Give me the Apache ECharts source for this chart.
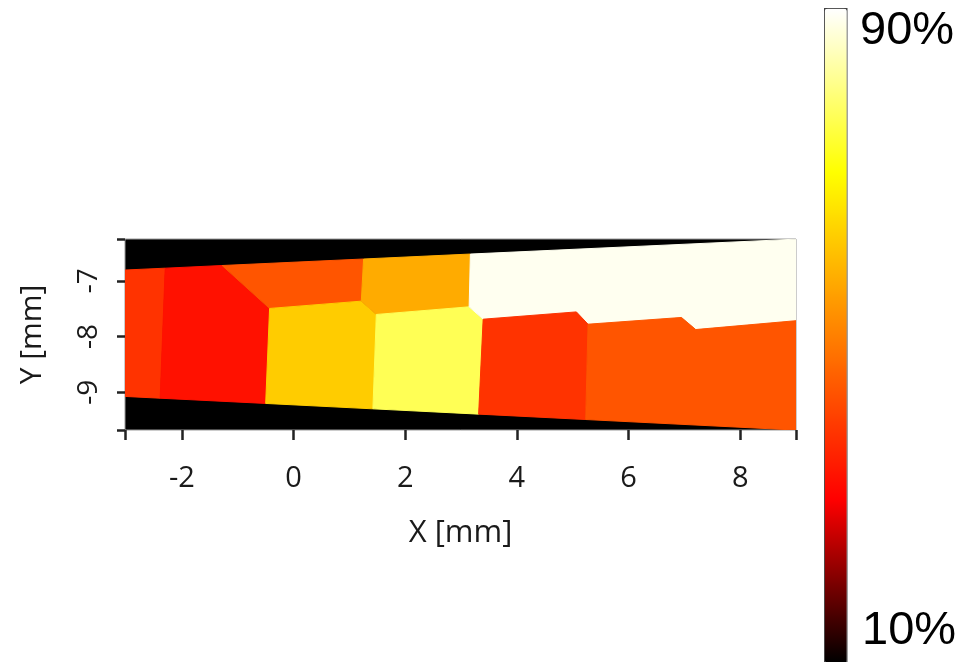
<!DOCTYPE html>
<html><head><meta charset="utf-8">
<script src="https://cdn.jsdelivr.net/npm/echarts@6/dist/echarts.min.js"></script>
<style>html,body{margin:0;padding:0;background:#fff}#c{width:966px;height:662px}</style>
</head><body><div id="c"></div>
<script>
// Cell values (percent)
const cellValues = [38, 32.7, 43.3, 62, 56.7, 76.7, 88.8, 38, 43.3];
// Cell outlines in data coordinates [X mm, Y mm]
const cell0 = [[-3.02,-6.807],[-2.30,-6.774],[-2.39,-9.109],[-3.02,-9.077]];
const cell1 = [[-2.30,-6.774],[-1.28,-6.726],[-0.43,-7.497],[-0.50,-9.203],[-2.39,-9.109]];
const cell2 = [[-1.28,-6.726],[1.254,-6.609],[1.213,-7.366],[-0.43,-7.497]];
const cell3 = [[-0.43,-7.497],[1.213,-7.366],[1.482,-7.605],[1.421,-9.300],[-0.50,-9.203]];
const cell4 = [[1.254,-6.609],[3.167,-6.520],[3.145,-7.468],[1.482,-7.605],[1.213,-7.366]];
const cell5 = [[1.482,-7.605],[3.145,-7.468],[3.396,-7.690],[3.315,-9.395],[1.421,-9.300]];
const cell6 = [[3.167,-6.520],[9.1,-6.248],[9.1,-7.708],[7.204,-7.876],[6.948,-7.659],[5.274,-7.780],[5.066,-7.559],[3.396,-7.690],[3.145,-7.468]];
const cell7 = [[3.396,-7.690],[5.066,-7.559],[5.274,-7.780],[5.233,-9.492],[3.315,-9.395]];
const cell8 = [[5.274,-7.780],[6.948,-7.659],[7.204,-7.876],[9.1,-7.708],[9.1,-9.686],[5.233,-9.492]];
const cellPolygons = [cell0, cell1, cell2, cell3, cell4, cell5, cell6, cell7, cell8];

const xTickLabels = [-2, 0, 2, 4, 6, 8];
const yTickLabels = [-9, -8, -7];
const xRange = [-3.02, 9.0];
const yRange = [-9.68, -6.25];
const colorRange = [10, 90];
const colorLabels = ['90%', '10%'];

const seriesData = cellPolygons.map((poly, i) => {
  let sx = 0, sy = 0;
  poly.forEach(p => { sx += p[0]; sy += p[1]; });
  return [sx / poly.length, sy / poly.length, cellValues[i]];
});

const chart = echarts.init(document.getElementById('c'), null, {renderer: 'canvas'});
const fontAxis = 'Open Sans';
chart.setOption({
  animation: false,
  backgroundColor: '#ffffff',
  grid: {
    left: 125, right: 170, top: 239, bottom: 232,
    show: true, backgroundColor: '#000000', borderColor: '#999999', borderWidth: 1
  },
  xAxis: {
    type: 'value', min: xRange[0], max: xRange[1],
    name: 'X [mm]', nameLocation: 'middle', nameGap: 88,
    nameTextStyle: {fontFamily: fontAxis, fontSize: 31, color: '#1a1a1a'},
    axisLine: {show: false, onZero: false},
    splitLine: {show: false},
    axisTick: {show: true, length: 10, lineStyle: {color: '#222', width: 2.5},
      customValues: [xRange[0]].concat(xTickLabels, [xRange[1]])},
    axisLabel: {customValues: xTickLabels, margin: 34, fontFamily: fontAxis, fontSize: 29, color: '#1a1a1a'}
  },
  yAxis: {
    type: 'value', min: yRange[0], max: yRange[1],
    name: 'Y [mm]', nameLocation: 'middle', nameGap: 78,
    nameTextStyle: {fontFamily: fontAxis, fontSize: 30, color: '#1a1a1a'},
    axisLine: {show: false, onZero: false},
    splitLine: {show: false},
    axisTick: {show: true, length: 8, lineStyle: {color: '#222', width: 2.5},
      customValues: [yRange[0]].concat(yTickLabels, [yRange[1]])},
    axisLabel: {customValues: yTickLabels, rotate: 90, margin: 22, fontFamily: fontAxis, fontSize: 28, color: '#1a1a1a'}
  },
  visualMap: {
    type: 'continuous', min: colorRange[0], max: colorRange[1], dimension: 2,
    orient: 'vertical', left: 824, top: 8, itemWidth: 22, itemHeight: 654,
    padding: 0, calculable: false, hoverLink: false, text: null,
    borderColor: '#444', borderWidth: 1.5,
    inRange: {color: ['#000000', '#ff0000', '#ff8000', '#ffff00', '#ffffff']},
    textStyle: {color: 'transparent'}
  },
  graphic: [
    {type: 'text', left: 860, top: 8, style: {text: colorLabels[0], fontFamily: 'Liberation Sans', fontSize: 47, fill: '#000'}},
    {type: 'text', left: 862, top: 608, style: {text: colorLabels[1], fontFamily: 'Liberation Sans', fontSize: 47, fill: '#000'}}
  ],
  series: [{
    type: 'custom', coordinateSystem: 'cartesian2d', clip: true,
    data: seriesData,
    encode: {x: 0, y: 1},
    renderItem: function (params, api) {
      const pts = cellPolygons[params.dataIndex].map(p => api.coord(p));
      const c = api.visual('color');
      return {type: 'polygon', shape: {points: pts}, style: {fill: c, stroke: c, lineWidth: 1}};
    }
  }]
});
</script></body></html>
